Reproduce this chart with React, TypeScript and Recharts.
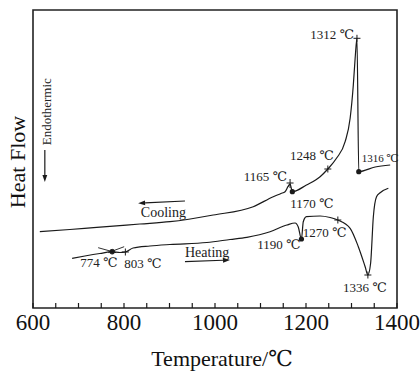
import { LineChart, Line, XAxis, YAxis, ReferenceArea, ReferenceDot, ReferenceLine } from "recharts";

// DSC trace, cooling run (℃ / heat flow, arbitrary units)
const coolT = [615, 681, 740, 835, 901, 996, 1084, 1128, 1145, 1154, 1165, 1170, 1201, 1231, 1248, 1267, 1286, 1297, 1304, 1308, 1312, 1316, 1352, 1385];
const coolHF = [7.63, 7.85, 8.07, 8.4, 8.63, 9.3, 10.13, 11.13, 11.45, 11.63, 12.4, 11.63, 12.3, 13.13, 13.9, 14.97, 16.63, 18.97, 22.3, 24.97, 26.97, 13.63, 14.1, 14.3];

// heating run
const heatT = [686, 714, 747, 774, 791, 803, 820, 857, 901, 982, 1033, 1070, 1121, 1158, 1176, 1183, 1190, 1194, 1201, 1231, 1253, 1270, 1297, 1315, 1330, 1336, 1342, 1348, 1355, 1363, 1381];
const heatHF = [4.97, 5.2, 5.45, 5.63, 5.55, 5.6, 6.0, 6.2, 6.35, 6.55, 6.85, 7.07, 7.63, 8.3, 8.5, 8.1, 6.9, 8.63, 9.13, 9.2, 9.05, 8.8, 7.97, 6.13, 4.13, 3.3, 4.47, 9.13, 11.13, 11.53, 11.97];

// marked transition points
const peakT = [1312, 1316, 1248, 1165, 1170, 774, 803, 1190, 1270, 1336];
const peakHF = [26.97, 13.63, 13.9, 12.4, 11.63, 5.63, 5.6, 6.9, 8.8, 3.3];
const peakLabel = ["1312 ℃", "1316 ℃", "1248 ℃", "1165 ℃", "1170 ℃", "774 ℃", "803 ℃", "1190 ℃", "1270 ℃", "1336 ℃"];
const peakMark = ["plus", "dot", "plus", "star", "dot", "cross", "plus", "dot", "plus", "plus"];

const xTicks = [600, 650, 700, 750, 800, 850, 900, 950, 1000, 1050, 1100, 1150, 1200, 1250, 1300, 1350, 1400];

const toRows = (t: number[], v: number[]) => t.map((x, i) => ({ t: x, hf: v[i] }));
const coolRows = toRows(coolT, coolHF);
const heatRows = toRows(heatT, heatHF);

const FONT = "'Liberation Serif', 'DejaVu Serif', 'Noto Sans CJK SC', serif";
const INK = "#1a1a1a";

// label placement per point (pixels relative to marker)
const labelPos: Record<string, { dx: number; dy: number; anchor: string; size: number }> = {
  "1312 ℃": { dx: -3, dy: 1, anchor: "end", size: 13 },
  "1316 ℃": { dx: 3, dy: -10, anchor: "start", size: 11 },
  "1248 ℃": { dx: -16, dy: -9, anchor: "middle", size: 13 },
  "1165 ℃": { dx: -3, dy: -3, anchor: "end", size: 13 },
  "1170 ℃": { dx: -2, dy: 16, anchor: "start", size: 13 },
  "774 ℃": { dx: -32, dy: 15, anchor: "start", size: 13 },
  "803 ℃": { dx: -1, dy: 16, anchor: "start", size: 13 },
  "1190 ℃": { dx: -1, dy: 10, anchor: "end", size: 13 },
  "1270 ℃": { dx: -35, dy: 17, anchor: "start", size: 13 },
  "1336 ℃": { dx: -3, dy: 17, anchor: "middle", size: 13 },
};

function Marker({ cx, cy, kind, label }: any) {
  const p = labelPos[label];
  let m: any = null;
  if (kind === "dot") m = <circle cx={cx} cy={cy} r={2.6} fill={INK} />;
  else if (kind === "plus")
    m = (
      <g stroke={INK} strokeWidth={1}>
        <line x1={cx - 3.5} y1={cy} x2={cx + 3.5} y2={cy} />
        <line x1={cx} y1={cy - 3.5} x2={cx} y2={cy + 3.5} />
      </g>
    );
  else if (kind === "star")
    m = (
      <g stroke={INK} strokeWidth={1}>
        <line x1={cx - 3.5} y1={cy - 1} x2={cx + 3.5} y2={cy - 1} />
        <line x1={cx} y1={cy - 5} x2={cx} y2={cy + 4} />
        <line x1={cx - 3} y1={cy + 4} x2={cx} y2={cy} />
      </g>
    );
  else if (kind === "cross")
    m = (
      <g stroke={INK} strokeWidth={0.9}>
        <circle cx={cx} cy={cy} r={2.4} fill={INK} />
        <line x1={cx - 14} y1={cy - 4} x2={cx + 4} y2={cy + 1} />
        <line x1={cx - 4} y1={cy + 1} x2={cx + 12} y2={cy - 5} />
      </g>
    );
  return (
    <g>
      {m}
      <text x={cx + p.dx} y={cy + p.dy} textAnchor={p.anchor as any} fontSize={p.size} fontFamily={FONT} fill="#222">
        {label}
      </text>
    </g>
  );
}

function Arrow(props: any) {
  const { x1, y1, x2, y2 } = props;
  const a = Math.atan2(y2 - y1, x2 - x1);
  const L = 7;
  const W = 2.4;
  const bx = x2 - L * Math.cos(a);
  const by = y2 - L * Math.sin(a);
  const px = -Math.sin(a) * W;
  const py = Math.cos(a) * W;
  return (
    <g>
      <line x1={x1} y1={y1} x2={bx} y2={by} stroke={INK} strokeWidth={1.2} />
      <polygon points={`${x2},${y2} ${bx + px},${by + py} ${bx - px},${by - py}`} fill={INK} />
    </g>
  );
}

function XTick({ x, y, payload }: any) {
  const v = payload.value;
  return (
    <g>
      <line x1={x} y1={y} x2={x} y2={y - 5} stroke={INK} strokeWidth={1.2} />
      {v % 200 === 0 && (
        <text x={x} y={y + 22} textAnchor="middle" fontSize={23} fontFamily={FONT} fill="#111">
          {v}
        </text>
      )}
    </g>
  );
}

export default function App() {
  return (
    <div style={{ position: "absolute", left: 0, top: 0, width: 420, height: 371, background: "#fff" }}>
      <LineChart width={420} height={371} data={coolRows} margin={{ top: 10, right: 23, bottom: 0, left: 0 }}>
        <XAxis
          dataKey="t"
          type="number"
          domain={[600, 1400]}
          ticks={xTicks}
          interval={0}
          axisLine={false}
          tickLine={false}
          tickSize={0}
          tickMargin={0}
          height={63}
          tick={<XTick />}
          label={{
            content: () => (
              <text x={222} y={366} textAnchor="middle" fontSize={22} fontFamily={FONT} fill="#111">
                Temperature/℃
              </text>
            ),
          }}
        />
        <YAxis
          type="number"
          domain={[0, 29.8]}
          width={33}
          tick={false}
          axisLine={false}
          tickLine={false}
          label={{
            content: () => (
              <text transform="translate(25,162) rotate(-90)" textAnchor="middle" fontSize={22} fontFamily={FONT} fill="#111">
                Heat Flow
              </text>
            ),
          }}
        />
        <ReferenceArea x1={600} x2={1400} y1={0} y2={29.8} fill="none" stroke="#222" strokeWidth={1.6} />
        <Line data={coolRows} dataKey="hf" type="monotone" stroke={INK} strokeWidth={1.2} dot={false} isAnimationActive={false} />
        <Line data={heatRows} dataKey="hf" type="monotone" stroke={INK} strokeWidth={1.2} dot={false} isAnimationActive={false} />
        {peakT.map((t, i) => (
          <ReferenceDot
            key={peakLabel[i]}
            x={t}
            y={peakHF[i]}
            r={0}
            shape={(p: any) => <Marker cx={p.cx} cy={p.cy} kind={peakMark[i]} label={peakLabel[i]} />}
          />
        ))}
        <ReferenceLine segment={[{ x: 934, y: 10.7 }, { x: 831, y: 10.47 }]} shape={<Arrow />} />
        <ReferenceLine segment={[{ x: 934, y: 4.63 }, { x: 1033, y: 4.8 }]} shape={<Arrow />} />
        <ReferenceLine segment={[{ x: 626, y: 15.8 }, { x: 626, y: 12.6 }]} shape={<Arrow />} />
        <ReferenceDot
          x={837}
          y={9.63}
          r={0}
          shape={(p: any) => (
            <text x={p.cx} y={p.cy} dy="0.35em" fontSize={14} fontFamily={FONT} fill="#222">
              Cooling
            </text>
          )}
        />
        <ReferenceDot
          x={934}
          y={5.63}
          r={0}
          shape={(p: any) => (
            <text x={p.cx} y={p.cy} dy="0.35em" fontSize={14} fontFamily={FONT} fill="#222">
              Heating
            </text>
          )}
        />
        <ReferenceDot
          x={630}
          y={19.63}
          r={0}
          shape={(p: any) => (
            <text transform={`translate(${p.cx},${p.cy}) rotate(-90)`} dy="0.35em" textAnchor="middle" fontSize={13} fontFamily={FONT} fill="#222">
              Endothermic
            </text>
          )}
        />
      </LineChart>
    </div>
  );
}
